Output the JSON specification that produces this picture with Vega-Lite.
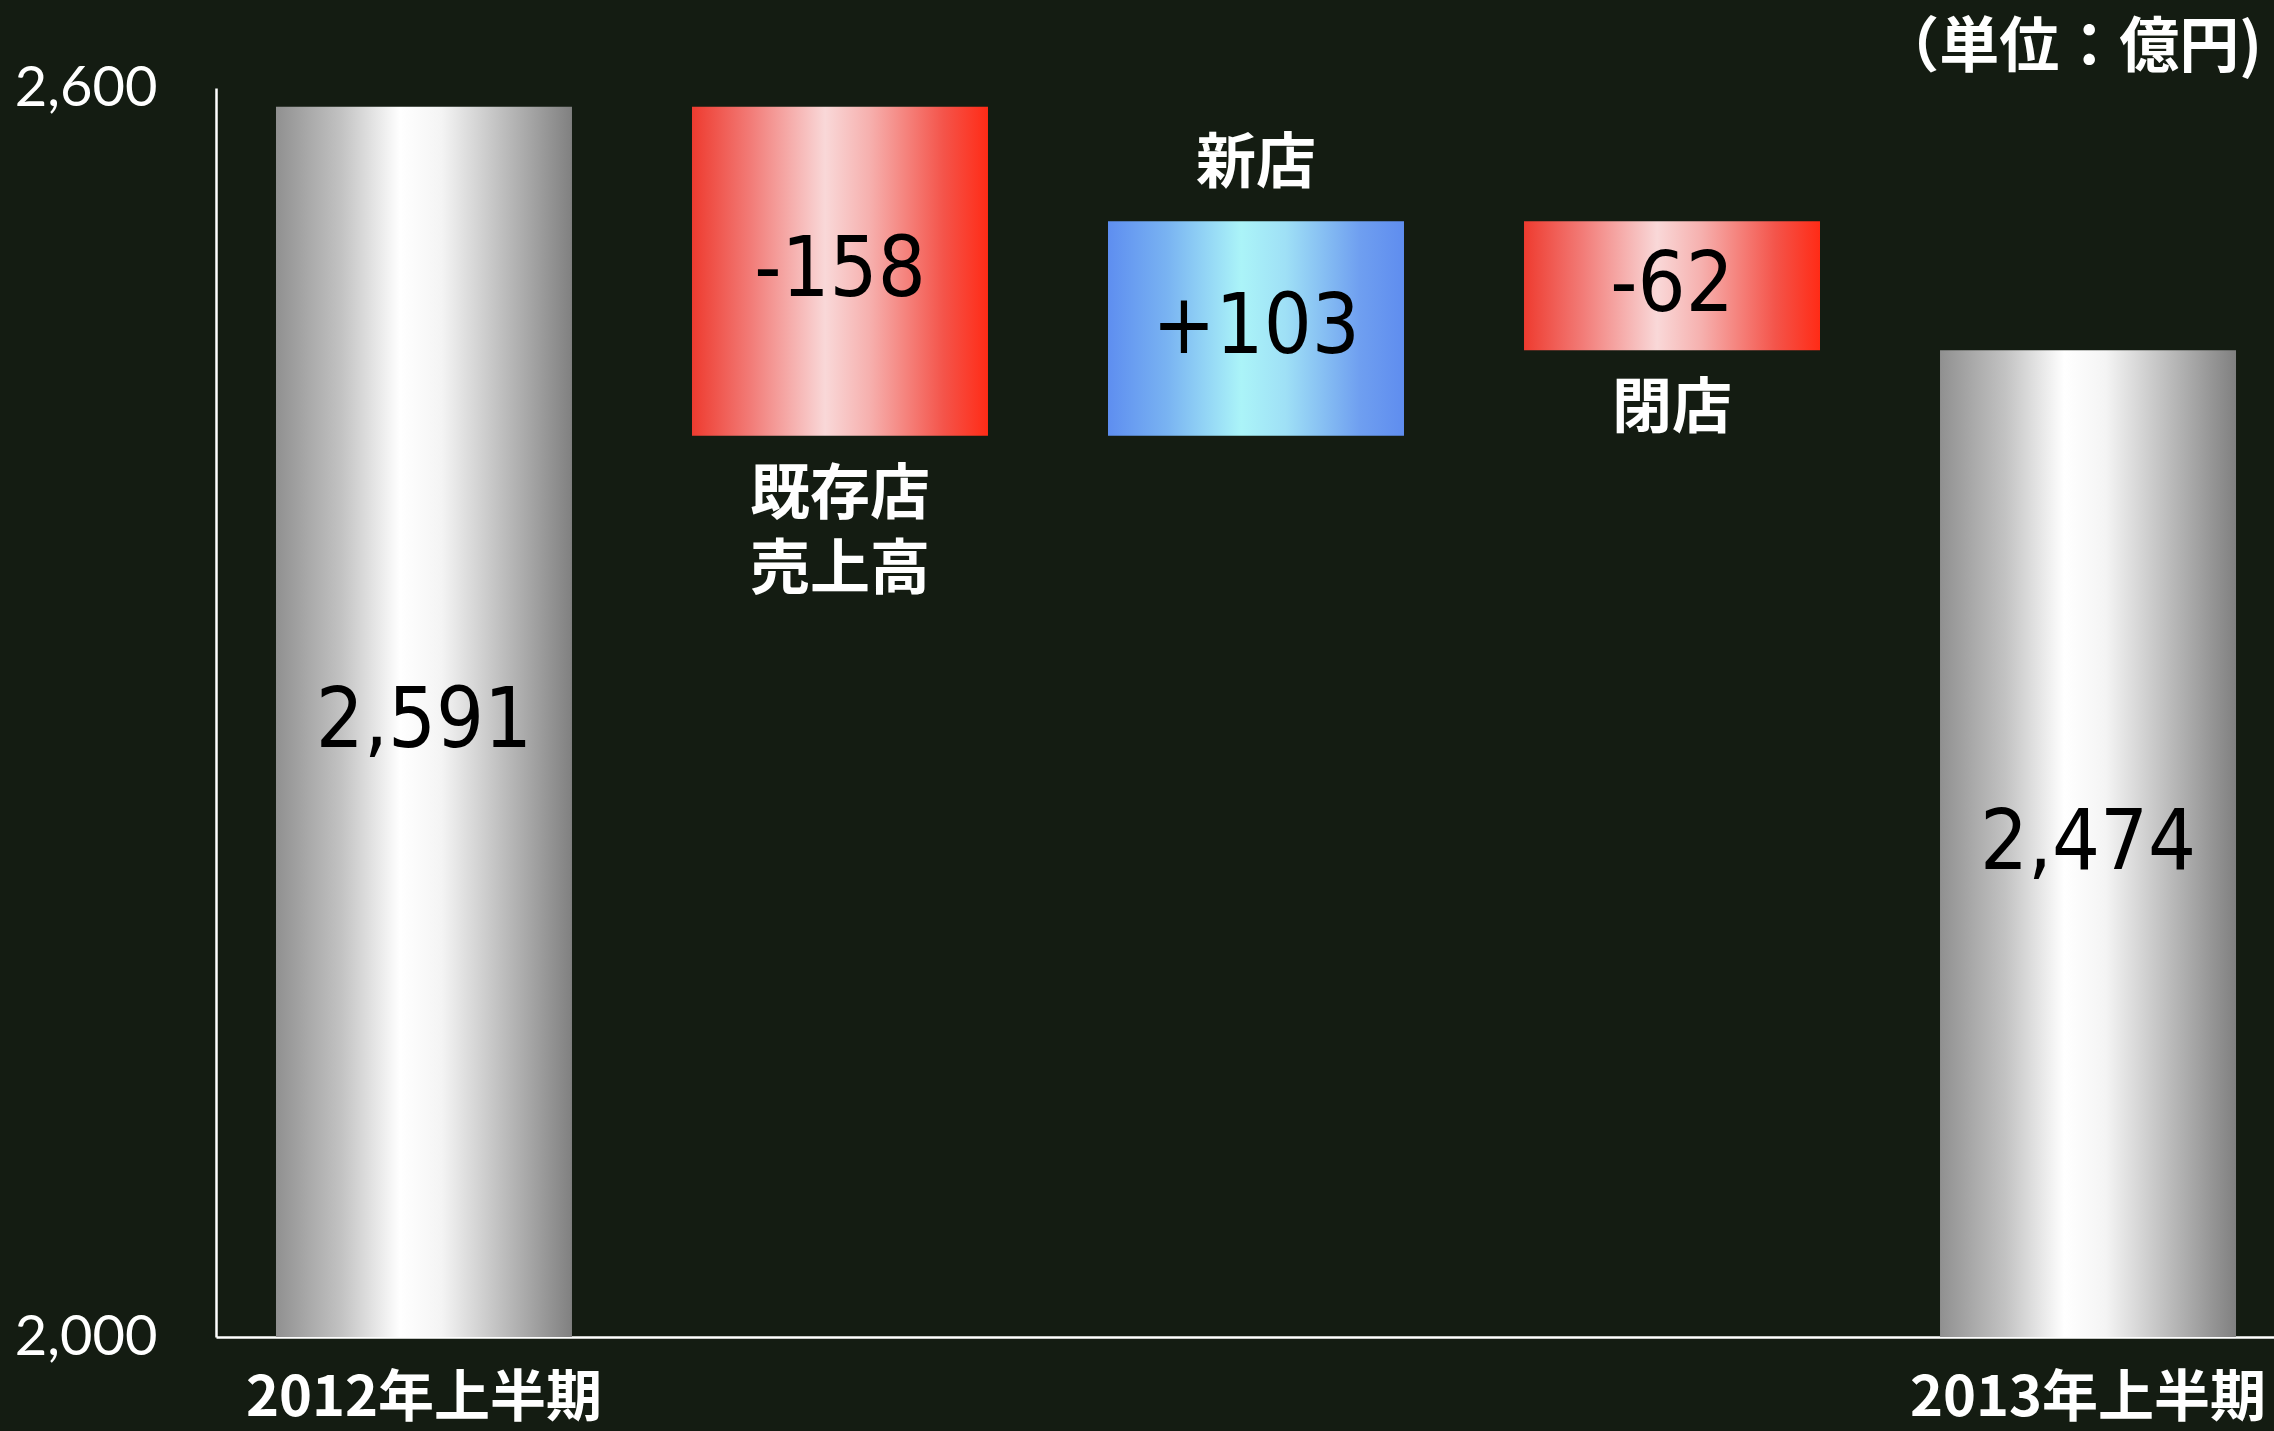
{
  "$schema": "https://vega.github.io/schema/vega-lite/v6.json",
  "autosize": "none",
  "width": 2080,
  "height": 1249,
  "padding": {"left": 216, "top": 88, "right": 0, "bottom": 94},
  "background": "#141c12",
  "config": {"view": {"stroke": null}},
  "title": {
    "text": "（単位：億円)",
    "anchor": "end",
    "frame": "group",
    "orient": "top",
    "font": "Noto Sans CJK JP",
    "fontWeight": "bold",
    "fontSize": 60,
    "color": "#ffffff",
    "offset": 14,
    "dx": -34,
    "dy": 34
  },
  "data": {
    "values": [
      {"cat": "2012年上半期", "type": "total", "start": 2000, "end": 2591, "label": "2,591"},
      {"cat": "既存店\n売上高", "type": "decrease", "start": 2591, "end": 2433, "label": "-158"},
      {"cat": "新店", "type": "increase", "start": 2433, "end": 2536, "label": "+103"},
      {"cat": "閉店", "type": "decrease", "start": 2536, "end": 2474, "label": "-62"},
      {"cat": "2013年上半期", "type": "total", "start": 2000, "end": 2474, "label": "2,474"}
    ]
  },
  "encoding": {
    "x": {
      "field": "cat",
      "type": "nominal",
      "sort": ["2012年上半期", "既存店\n売上高", "新店", "閉店", "2013年上半期"],
      "scale": {"type": "band", "paddingInner": 0.2885, "paddingOuter": 0.1442},
      "axis": {
        "title": null,
        "labelExpr": "indexof(['2012年上半期','2013年上半期'], datum.value) >= 0 ? datum.value : ''",
        "labelAngle": 0,
        "labelFont": "Noto Sans CJK JP",
        "labelFontWeight": "bold",
        "labelFontSize": 56,
        "labelColor": "#ffffff",
        "labelPadding": 34,
        "labelLimit": 0,
        "labelOverlap": false,
        "labelBound": false,
        "labelFlush": false,
        "ticks": false,
        "grid": false,
        "domainColor": "#ffffff",
        "domainWidth": 2.5
      }
    }
  },
  "layer": [
    {
      "transform": [{"filter": "datum.type === 'total'"}],
      "mark": {
        "type": "bar",
        "fill": {
          "gradient": "linear", "x1": 0, "y1": 0, "x2": 1, "y2": 0,
          "stops": [
            {"offset": 0, "color": "#909090"},
            {"offset": 0.22, "color": "#c2c2c2"},
            {"offset": 0.42, "color": "#ffffff"},
            {"offset": 0.56, "color": "#f4f4f4"},
            {"offset": 0.78, "color": "#bababa"},
            {"offset": 1, "color": "#808080"}
          ]
        }
      },
      "encoding": {
        "y": {
          "field": "start",
          "type": "quantitative",
          "scale": {"domain": [2000, 2600], "nice": false, "zero": false},
          "axis": {
            "title": null,
            "values": [2000, 2600],
            "labelExpr": "format(datum.value, ',')",
            "ticks": false,
            "grid": false,
            "labelFont": "Lato",
            "labelFontSize": 56,
            "labelColor": "#ffffff",
            "labelPadding": 59,
            "labelLimit": 0,
            "labelFlush": false,
            "labelOverlap": false,
            "domainColor": "#ffffff",
            "domainWidth": 2.5
          }
        },
        "y2": {"field": "end"}
      }
    },
    {
      "transform": [{"filter": "datum.type === 'decrease'"}],
      "mark": {
        "type": "bar",
        "fill": {
          "gradient": "linear", "x1": 0, "y1": 0, "x2": 1, "y2": 0,
          "stops": [
            {"offset": 0, "color": "#ee3b2f"},
            {"offset": 0.2, "color": "#f27c78"},
            {"offset": 0.45, "color": "#f9d8d8"},
            {"offset": 0.6, "color": "#f6b0ae"},
            {"offset": 0.85, "color": "#f4544a"},
            {"offset": 1, "color": "#ff2b16"}
          ]
        }
      },
      "encoding": {
        "y": {"field": "start", "type": "quantitative"},
        "y2": {"field": "end"}
      }
    },
    {
      "transform": [{"filter": "datum.type === 'increase'"}],
      "mark": {
        "type": "bar",
        "fill": {
          "gradient": "linear", "x1": 0, "y1": 0, "x2": 1, "y2": 0,
          "stops": [
            {"offset": 0, "color": "#5e8ef0"},
            {"offset": 0.2, "color": "#79b3f2"},
            {"offset": 0.45, "color": "#abf4f8"},
            {"offset": 0.6, "color": "#9fe0f6"},
            {"offset": 0.85, "color": "#6f9ff0"},
            {"offset": 1, "color": "#5f8def"}
          ]
        }
      },
      "encoding": {
        "y": {"field": "start", "type": "quantitative"},
        "y2": {"field": "end"}
      }
    },
    {
      "transform": [
        {"fold": ["start", "end"], "as": ["key", "value"]}
      ],
      "mark": {
        "type": "text",
        "font": "DejaVu Sans Condensed, Liberation Sans Narrow, sans-serif",
        "fontSize": 84,
        "color": "#000000",
        "baseline": "middle",
        "align": "center"
      },
      "encoding": {
        "y": {"aggregate": "mean", "field": "value", "type": "quantitative"},
        "text": {"field": "label", "type": "nominal"}
      }
    },
    {
      "transform": [{"filter": "datum.type === 'decrease'"}],
      "mark": {
        "type": "text",
        "font": "Noto Sans CJK JP",
        "fontWeight": "bold",
        "fontSize": 60,
        "lineHeight": 75,
        "lineBreak": "\n",
        "color": "#ffffff",
        "baseline": "top",
        "align": "center",
        "dy": 31
      },
      "encoding": {
        "y": {"field": "end", "type": "quantitative"},
        "text": {"field": "cat", "type": "nominal"}
      }
    },
    {
      "transform": [{"filter": "datum.type === 'increase'"}],
      "mark": {
        "type": "text",
        "font": "Noto Sans CJK JP",
        "fontWeight": "bold",
        "fontSize": 60,
        "color": "#ffffff",
        "baseline": "alphabetic",
        "align": "center",
        "dy": -38
      },
      "encoding": {
        "y": {"field": "end", "type": "quantitative"},
        "text": {"field": "cat", "type": "nominal"}
      }
    }
  ]
}
